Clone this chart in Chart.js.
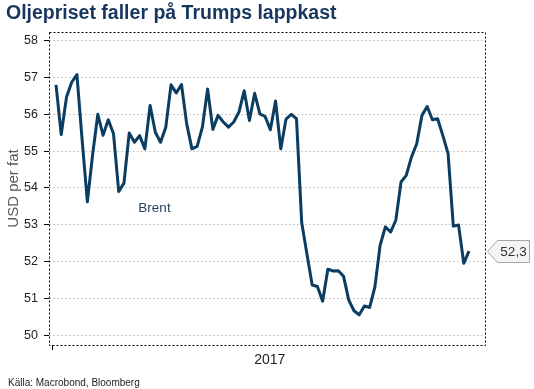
<!DOCTYPE html>
<html>
<head>
<meta charset="utf-8">
<script src="https://cdn.jsdelivr.net/npm/chart.js@4.4.1/dist/chart.umd.min.js"></script>
<style>
  body { margin: 0; background: #fff; }
  canvas { display: block; }
</style>
</head>
<body>
<canvas id="oil" width="534" height="389"></canvas>
<script>
// Brent, USD per fat (daily closes)
const brent = [
  56.8, 55.45, 56.46, 56.87, 57.08, 55.3, 53.62, 54.9, 56.0, 55.43,
  55.85, 55.47, 53.9, 54.13, 55.49, 55.24, 55.42, 55.06, 56.24, 55.51,
  55.24, 55.65, 56.8, 56.58, 56.81, 55.74, 55.06, 55.13, 55.65, 56.69,
  55.59, 55.97, 55.79, 55.65, 55.79, 56.06, 56.64, 55.83, 56.57, 56.01,
  55.94, 55.58, 56.36, 55.06, 55.87, 56.0, 55.88, 53.05, 52.2, 51.36,
  51.32, 50.92, 51.79, 51.74, 51.75, 51.6, 50.95, 50.66, 50.55, 50.79,
  50.75, 51.31, 52.44, 52.94, 52.8, 53.12, 54.16, 54.34, 54.84, 55.2,
  55.97, 56.21, 55.85, 55.88, 55.42, 54.93, 52.96, 52.99, 51.95, 52.28
];
const days = brent.map((v, i) => i);
const yTicks = [50, 51, 52, 53, 54, 55, 56, 57, 58];
const xTickValues = [-0.63, 40.9];
const xTickLabels = ['', '2017'];

const FONT = "'Liberation Sans', Arial, sans-serif";
const NAVY = '#0b3d62';

// dotted frame, title, series label, end tag and source
const extras = {
  id: 'extras',
  afterDraw(chart) {
    const { ctx, chartArea: a, scales: { x, y } } = chart;
    ctx.save();
    ctx.strokeStyle = '#000';
    ctx.lineWidth = 1;
    ctx.setLineDash([2, 2]);
    ctx.strokeRect(Math.round(a.left) + 0.5, Math.round(a.top) + 0.5,
      Math.round(a.right - a.left), Math.round(a.bottom - a.top));
    ctx.setLineDash([]);

    ctx.fillStyle = '#17375e';
    ctx.font = 'bold 19.5px ' + FONT;
    ctx.textAlign = 'left';
    ctx.textBaseline = 'alphabetic';
    ctx.fillText('Oljepriset faller på Trumps lappkast', 6, 19);

    ctx.fillStyle = '#1f3f5f';
    ctx.font = '13.5px ' + FONT;
    ctx.textAlign = 'center';
    ctx.textBaseline = 'middle';
    ctx.fillText('Brent', x.getPixelForValue(18.84), y.getPixelForValue(53.45));

    // value tag for the last point
    const last = brent[brent.length - 1];
    const ty = Math.round(y.getPixelForValue(last)) + 0.5;
    const tx = Math.round(a.right) + 2.5;
    ctx.beginPath();
    ctx.moveTo(tx, ty);
    ctx.lineTo(tx + 10, ty - 11);
    ctx.lineTo(tx + 42, ty - 11);
    ctx.lineTo(tx + 42, ty + 11);
    ctx.lineTo(tx + 10, ty + 11);
    ctx.closePath();
    ctx.fillStyle = '#f4f4f4';
    ctx.fill();
    ctx.strokeStyle = '#a6a6a6';
    ctx.stroke();
    ctx.fillStyle = '#333';
    ctx.font = '13.5px ' + FONT;
    ctx.fillText(last.toFixed(1).replace('.', ','), tx + 26, ty + 1);

    ctx.fillStyle = '#222';
    ctx.font = '10px ' + FONT;
    ctx.textAlign = 'left';
    ctx.textBaseline = 'alphabetic';
    ctx.fillText('Källa: Macrobond, Bloomberg', 8, 385.5);
    ctx.restore();
  }
};

new Chart(document.getElementById('oil'), {
  type: 'line',
  data: {
    labels: days,
    datasets: [{
      label: 'Brent',
      data: brent.map((v, i) => ({ x: days[i], y: v })),
      borderColor: NAVY,
      borderWidth: 3,
      pointRadius: 0,
      tension: 0,
      borderJoinStyle: 'round',
      fill: false
    }]
  },
  options: {
    responsive: false,
    animation: false,
    devicePixelRatio: 1,
    layout: { padding: { top: 32, right: 49, left: 0, bottom: 0 } },
    plugins: {
      legend: { display: false },
      tooltip: { enabled: false }
    },
    scales: {
      x: {
        type: 'linear',
        min: -1.34,
        max: 82.06,
        afterBuildTicks: s => { s.ticks = xTickValues.map(v => ({ value: v })); },
        afterFit: s => { s.height = 44; },
        border: { display: false },
        grid: {
          drawOnChartArea: false,
          tickLength: 5,
          tickColor: c => c.index === 0 ? '#000' : 'rgba(0,0,0,0)'
        },
        ticks: {
          autoSkip: false,
          maxRotation: 0,
          padding: 2,
          color: '#222',
          font: { family: FONT, size: 14 },
          callback: (v, i) => xTickLabels[i]
        }
      },
      y: {
        min: 49.73,
        max: 58.236,
        afterBuildTicks: s => { s.ticks = yTicks.map(v => ({ value: v })); },
        afterFit: s => { s.width = 49; },
        border: { display: false, dash: [2, 2] },
        grid: {
          color: '#cccccc',
          tickLength: 5,
          tickColor: '#000'
        },
        ticks: {
          padding: 6,
          color: '#222',
          font: { family: FONT, size: 12.5 }
        },
        title: {
          display: true,
          text: 'USD per fat',
          color: '#595959',
          font: { family: FONT, size: 15 },
          padding: { top: 5, bottom: 0 }
        }
      }
    }
  },
  plugins: [extras]
});
</script>
</body>
</html>
